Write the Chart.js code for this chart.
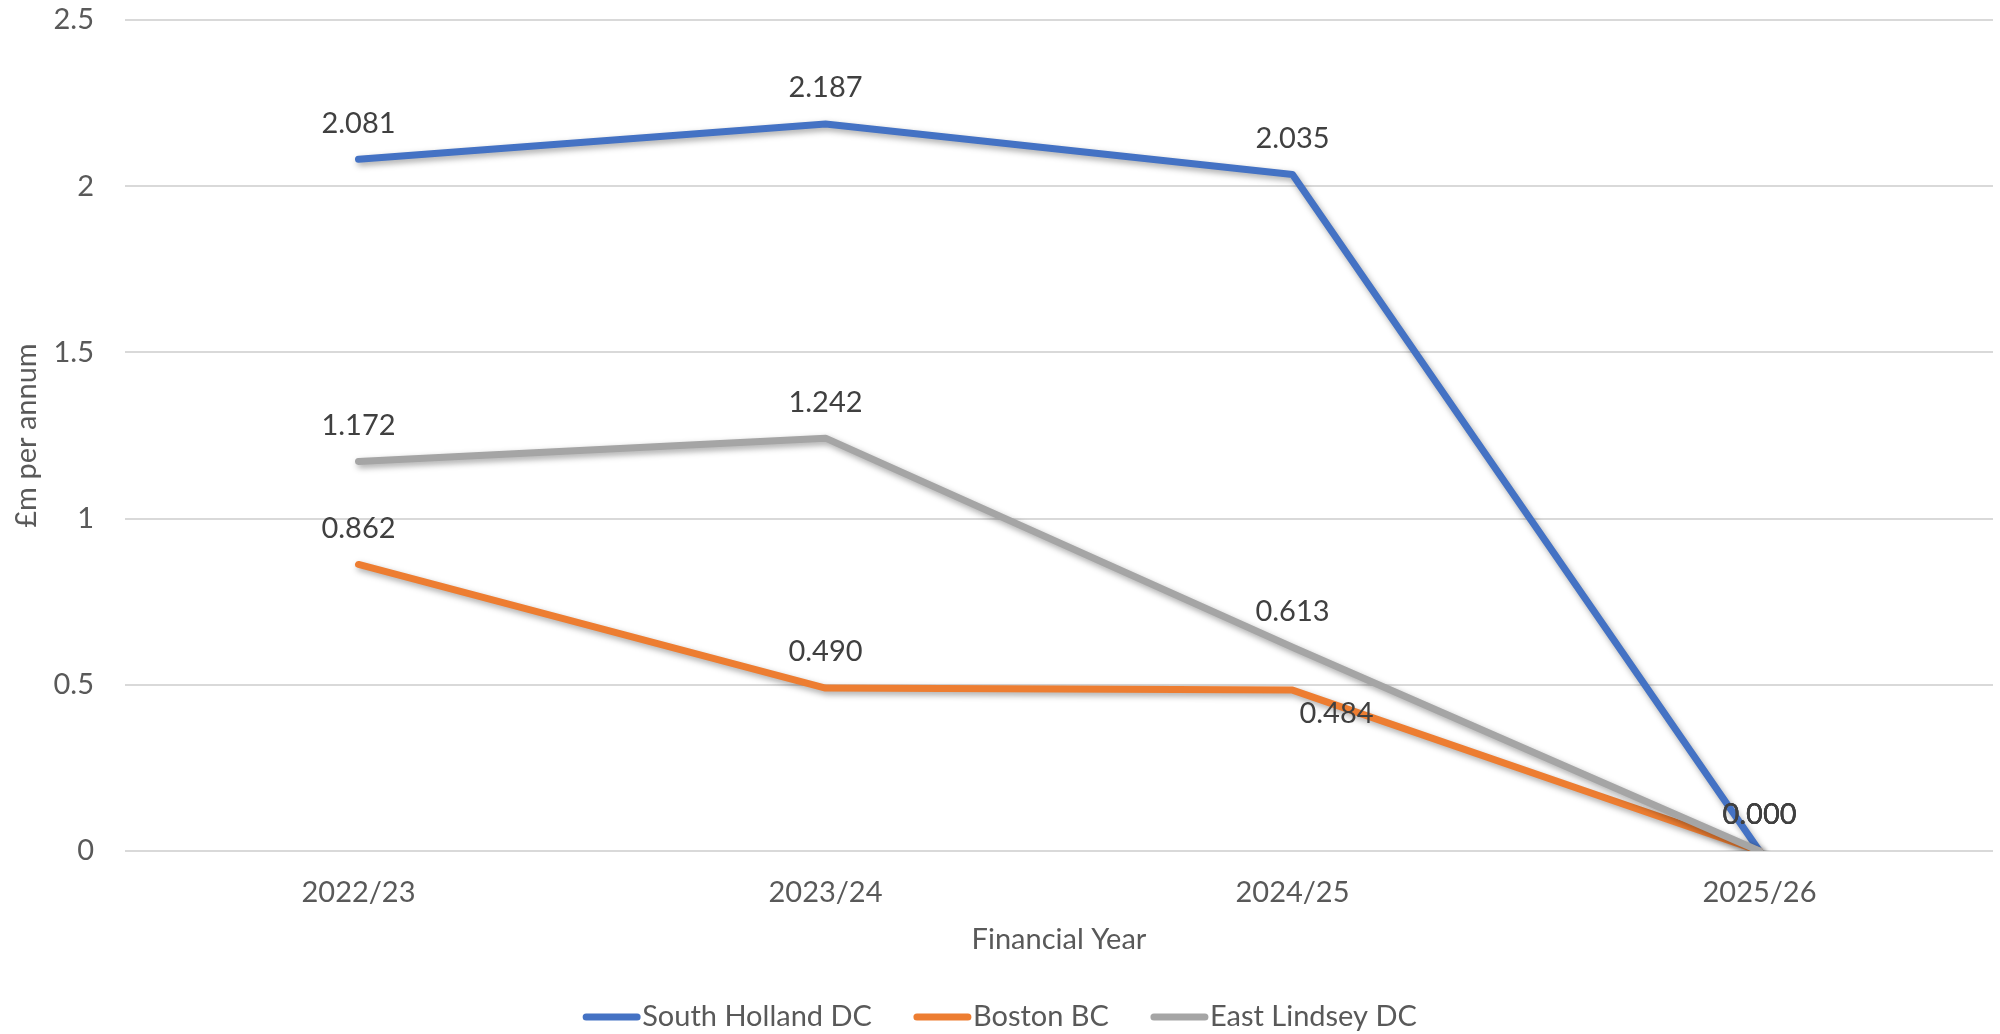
<!DOCTYPE html>
<html lang="en">
<head>
  <meta charset="UTF-8"/>
  <title>Financial Year chart</title>
  <script src="https://cdn.jsdelivr.net/npm/chart.js"></script>
  <style>
    html, body { margin: 0; padding: 0; background: #ffffff; overflow: hidden; }
    .chart-container { position: relative; width: 2000px; height: 1034px; }
  </style>
</head>
<body>
<div class="chart-container">
  <canvas id="savingsChart"></canvas>
</div>

<script>
const years = ['2022/23', '2023/24', '2024/25', '2025/26'];
const southHolland = [2.081, 2.187, 2.035, 0.000];
const boston = [0.862, 0.490, 0.484, 0.000];
const eastLindsey = [1.172, 1.242, 0.613, 0.000];

const fontFamily = "Lato, 'Open Sans', sans-serif";
const fontSize = 29;
const textColor = '#595959';

// soft drop shadow under each line, like the office chart
const lineShadow = {
  id: 'lineShadow',
  beforeDatasetDraw(chart) {
    const ctx = chart.ctx;
    ctx.save();
    ctx.shadowColor = 'rgba(0,0,0,0.35)';
    ctx.shadowBlur = 6;
    ctx.shadowOffsetX = 2;
    ctx.shadowOffsetY = 3;
  },
  afterDatasetDraw(chart) {
    chart.ctx.restore();
  }
};

// value labels drawn next to each point
const valueLabels = {
  id: 'valueLabels',
  afterDatasetsDraw(chart) {
    const ctx = chart.ctx;
    ctx.save();
    ctx.font = fontSize + 'px ' + fontFamily;
    ctx.fillStyle = '#404040';
    ctx.textAlign = 'center';
    ctx.textBaseline = 'middle';
    chart.data.datasets.forEach((ds, di) => {
      const meta = chart.getDatasetMeta(di);
      meta.data.forEach((pt, i) => {
        const off = (ds.labelOffsets && ds.labelOffsets[i]) || [0, -36];
        ctx.fillText(ds.data[i].toFixed(3), pt.x + off[0], pt.y + off[1]);
      });
    });
    ctx.restore();
  }
};

// legend with the line swatch right against the text, centred under the chart
const lineLegend = {
  id: 'lineLegend',
  afterDraw(chart) {
    const ctx = chart.ctx;
    const swatch = 57, gap = 2, itemGap = 42;
    const y = chart.height - 17;
    ctx.save();
    ctx.font = fontSize + 'px ' + fontFamily;
    ctx.textBaseline = 'middle';
    ctx.textAlign = 'left';
    const items = chart.data.datasets.map(ds => ({
      text: ds.label, color: ds.borderColor, w: ctx.measureText(ds.label).width
    }));
    let total = 0;
    items.forEach((it, i) => { total += swatch + gap + it.w + (i ? itemGap : 0); });
    let x = chart.width / 2 - total / 2;
    items.forEach(it => {
      ctx.strokeStyle = it.color;
      ctx.lineWidth = 7;
      ctx.lineCap = 'round';
      ctx.beginPath();
      ctx.moveTo(x + 3, y);
      ctx.lineTo(x + swatch - 3, y);
      ctx.stroke();
      ctx.fillStyle = textColor;
      ctx.fillText(it.text, x + swatch + gap, y);
      x += swatch + gap + it.w + itemGap;
    });
    ctx.restore();
  }
};

const chart = new Chart(document.getElementById('savingsChart'), {
  type: 'line',
  data: {
    labels: years,
    datasets: [
      { label: 'South Holland DC', data: southHolland, borderColor: '#4472C4', backgroundColor: '#4472C4', order: 2 },
      { label: 'Boston BC', data: boston, borderColor: '#ED7D31', backgroundColor: '#ED7D31', order: 1,
        labelOffsets: { 2: [44, 24] } },
      { label: 'East Lindsey DC', data: eastLindsey, borderColor: '#A5A5A5', backgroundColor: '#A5A5A5', order: 0 }
    ].map(ds => Object.assign(ds, {
      borderWidth: 7,
      pointRadius: 0,
      pointHoverRadius: 0,
      tension: 0,
      fill: false,
      borderCapStyle: 'round',
      borderJoinStyle: 'round'
    }))
  },
  options: {
    responsive: true,
    maintainAspectRatio: false,
    animation: false,
    layout: { padding: { top: 20, right: 7, left: 0, bottom: 73 } },
    plugins: {
      tooltip: { enabled: false },
      legend: { display: false }
    },
    scales: {
      x: {
        offset: true,
        grid: { display: false, drawTicks: false },
        border: { display: false },
        ticks: { font: { family: fontFamily, size: fontSize }, color: textColor, padding: 24 },
        title: { display: true, text: 'Financial Year', font: { family: fontFamily, size: fontSize }, color: textColor },
        afterFit(scale) { scale.height = 110; }
      },
      y: {
        min: 0,
        max: 2.5,
        ticks: {
          stepSize: 0.5,
          font: { family: fontFamily, size: fontSize },
          color: textColor,
          padding: 31,
          callback: v => String(v)
        },
        grid: { color: '#D9D9D9', lineWidth: 2, drawTicks: false },
        border: { display: false },
        title: { display: true, text: '£m per annum', font: { family: fontFamily, size: fontSize }, color: textColor, padding: { top: 9, bottom: 4 } },
        afterFit(scale) {
          scale.width = 125;
          // tick padding should only push labels sideways, not shrink the plot vertically
          scale.paddingTop = 16;
          scale.paddingBottom = 16;
        }
      }
    }
  },
  plugins: [lineShadow, valueLabels, lineLegend]
});
</script>
</body>
</html>
